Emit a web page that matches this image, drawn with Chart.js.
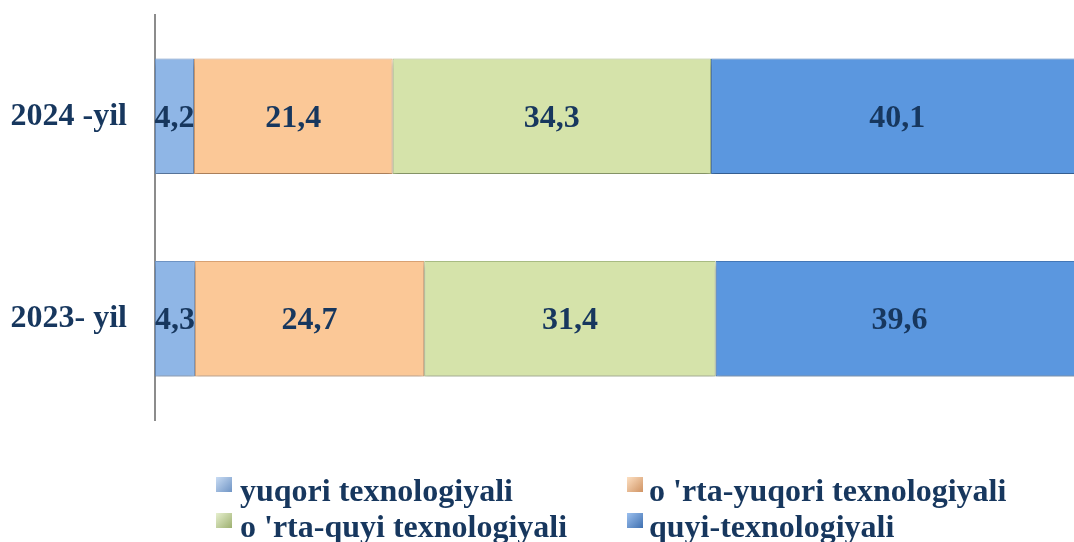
<!DOCTYPE html>
<html>
<head>
<meta charset="utf-8">
<script src="https://cdn.jsdelivr.net/npm/chart.js@4"></script>
<style>
  body { margin: 0; background: #fff; }
  #wrap { position: relative; width: 1074px; height: 542px; }
  #legend { position: absolute; left: 0; top: 0; width: 1074px; height: 542px; pointer-events: none;
    font-family: "Liberation Serif", "Times New Roman", serif; font-weight: bold; font-size: 32px; color: #17375E; }
  .item { position: absolute; white-space: nowrap; line-height: 32px; }
  .box { position: absolute; top: 3px; width: 16px; height: 15px; }
</style>
</head>
<body>
<div id="wrap">
  <canvas id="chart" width="1074" height="542"></canvas>
  <div id="legend"></div>
</div>
<script>
// data
var years = ["2024 -yil", "2023- yil"]
var seriesNames = ["yuqori texnologiyali", "o 'rta-yuqori texnologiyali", "o 'rta-quyi texnologiyali", "quyi-texnologiyali"]
var yuqori = [4.2, 4.3]
var ortaYuqori = [21.4, 24.7]
var ortaQuyi = [34.3, 31.4]
var quyi = [40.1, 39.6]

var fills = ["#8FB6E6", "#FBC897", "#D5E3AA", "#5B97DF"]
var lights = ["#B9D3F3", "#FDE0C0", "#E8F0CC", "#8CB8EE"]
var darks = ["#6F94C4", "#D9A273", "#A9BC83", "#4478B8"]
var legendGrad = [
  "linear-gradient(135deg,#c9dcf4,#6f94c4)",
  "linear-gradient(135deg,#fde0c2,#d09363)",
  "linear-gradient(135deg,#e7f0cf,#9db070)",
  "linear-gradient(135deg,#9cc0ef,#3f70b0)"
]

function bevel(i) {
  return function (c) {
    var el = c.element
    if (!el || !c.chart.chartArea) return fills[i]
    var p = el.getProps(["y", "height"], true)
    if (!p.height) return fills[i]
    var g = c.chart.ctx.createLinearGradient(0, p.y - p.height / 2, 0, p.y + p.height / 2)
    g.addColorStop(0, lights[i])
    g.addColorStop(0.1, fills[i])
    g.addColorStop(0.9, fills[i])
    g.addColorStop(1, darks[i])
    return g
  }
}

var values = [yuqori, ortaYuqori, ortaQuyi, quyi]
var datasets = []
for (var i = 0; i < values.length; i++) {
  datasets.push({
    label: seriesNames[i],
    data: values[i],
    backgroundColor: bevel(i),
    borderColor: darks[i],
    borderWidth: 1,
    borderSkipped: false,
    barPercentage: 0.57,
    categoryPercentage: 1
  })
}

var shadowPlugin = {
  id: "barShadow",
  beforeDatasetsDraw: function (chart) {
    var ctx = chart.ctx
    ctx.save()
    ctx.shadowColor = "rgba(0,0,0,0.25)"
    ctx.shadowOffsetY = 4
    ctx.shadowBlur = 5
  },
  afterDatasetsDraw: function (chart) {
    chart.ctx.restore()
  }
}

var labelPlugin = {
  id: "valueLabels",
  afterDatasetsDraw: function (chart) {
    var ctx = chart.ctx
    ctx.save()
    ctx.font = "bold 32px 'Liberation Serif', 'Times New Roman', serif"
    ctx.fillStyle = "#17375E"
    ctx.textAlign = "center"
    ctx.textBaseline = "middle"
    chart.data.datasets.forEach(function (ds, di) {
      chart.getDatasetMeta(di).data.forEach(function (bar, j) {
        var p = bar.getProps(["x", "y", "base"], true)
        ctx.fillText(String(ds.data[j]).replace(".", ","), (p.x + p.base) / 2, p.y + 2)
      })
    })
    ctx.restore()
  }
}

var chart = new Chart(document.getElementById("chart"), {
  type: "bar",
  data: { labels: years, datasets: datasets },
  options: {
    indexAxis: "y",
    responsive: false,
    animation: false,
    layout: { padding: { top: 15, bottom: 122, left: 0, right: 0 } },
    plugins: { legend: { display: false }, tooltip: { enabled: false } },
    scales: {
      x: { stacked: true, min: 0, max: 99, display: false },
      y: {
        stacked: true,
        afterFit: function (s) {
          s.width = 155
          s.paddingTop = 0
          s.paddingBottom = 0
        },
        grid: { display: false, drawTicks: false },
        border: { display: true, color: "#8c8c8c", width: 2 },
        ticks: {
          padding: 28,
          color: "#17375E",
          font: { family: "'Liberation Serif', 'Times New Roman', serif", size: 32, weight: "bold" }
        }
      }
    }
  },
  plugins: [shadowPlugin, labelPlugin]
})

// legend, 2 x 2
var spots = [[216, 474], [627, 474], [216, 510], [627, 510]]
var leg = document.getElementById("legend")
seriesNames.forEach(function (name, i) {
  var d = document.createElement("div")
  d.className = "item"
  d.style.left = spots[i][0] + "px"
  d.style.top = spots[i][1] + "px"
  d.style.paddingLeft = (i % 2 ? 22 : 24) + "px"
  d.innerHTML = '<span class="box" style="left:0;background:' + legendGrad[i] + '"></span>' + name
  leg.appendChild(d)
})
</script>
</body>
</html>
